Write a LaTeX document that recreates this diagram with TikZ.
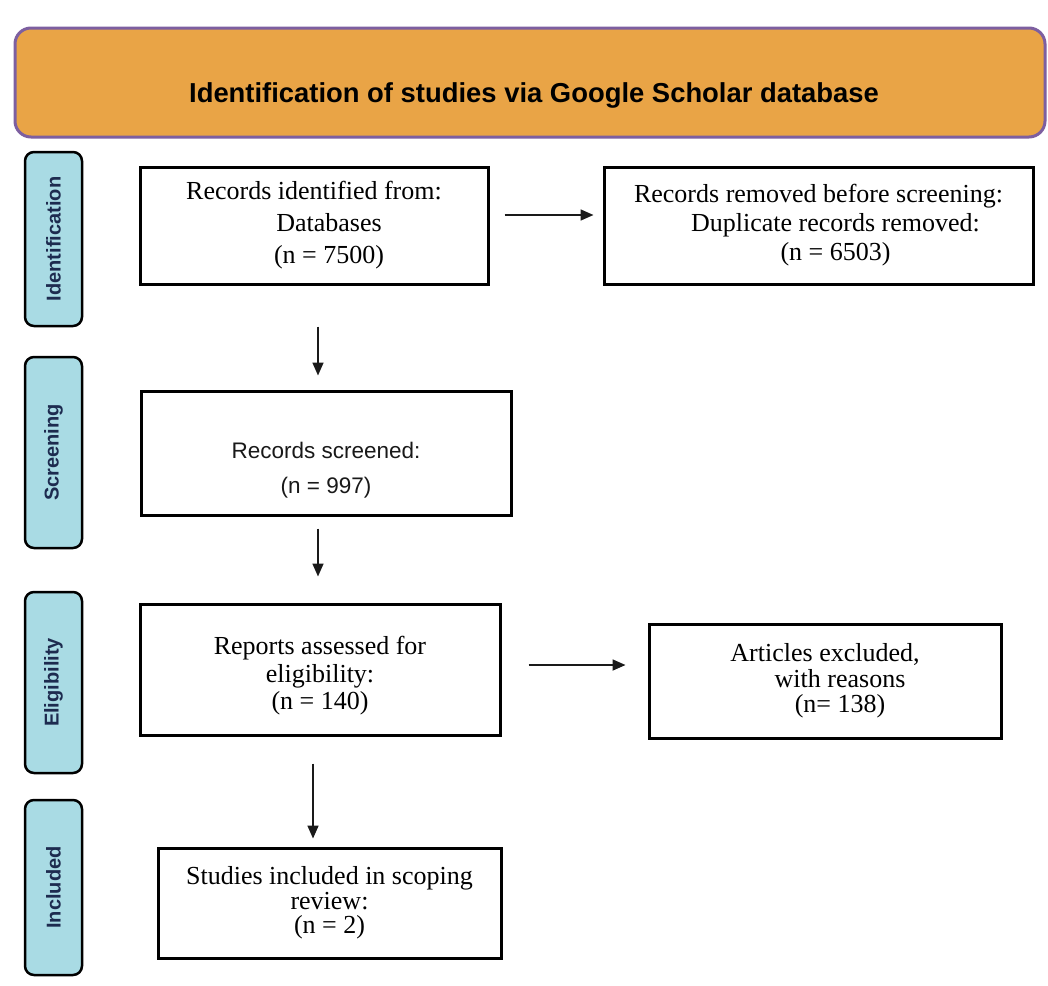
\documentclass[tikz,border=0pt]{standalone}
\usepackage{fontspec}
\setmainfont{Liberation Serif}
\setsansfont{Liberation Sans}
\usetikzlibrary{arrows.meta,calc}
\definecolor{hdrfill}{HTML}{E9A446}
\definecolor{hdrline}{HTML}{7D5FA0}
\definecolor{phasefill}{HTML}{A9DBE4}
\definecolor{phasetext}{HTML}{1D2B4F}
\definecolor{arrowc}{HTML}{1A1A1A}
\begin{document}
\begin{tikzpicture}[x=1pt,y=-1pt,
  hdr/.style={draw=hdrline, line width=3pt, fill=hdrfill, rounded corners=16pt,
    minimum width=1030pt, minimum height=109pt, inner sep=0pt},
  hdrtxt/.style={inner sep=0pt, font=\sffamily\bfseries\fontsize{27.4}{32}\selectfont},
  phase/.style={draw=black, line width=2.5pt, fill=phasefill, rounded corners=9pt,
    rotate=90, minimum height=57pt, inner sep=0pt, text=phasetext,
    font=\sffamily\bfseries\fontsize{20}{22}\selectfont},
  stepbox/.style={draw=black, line width=3pt, inner sep=0pt, align=center,
    font=\fontsize{26}{32}\selectfont},
  sanstxt/.style={inner sep=0pt, align=center, text=black!90,
    font=\sffamily\fontsize{22.5}{35}\selectfont},
  arr/.style={draw=arrowc, line width=1.7pt, -{Triangle[length=13pt,width=11pt]}}
]
\fill[white] (0,0) rectangle (1048,985);
\useasboundingbox (0,0) rectangle (1048,985);

% header
\node[hdr] (hdr) at (530,82.5) {};
\node[hdrtxt] (hdrt) at (534,95) {Identification of studies via Google Scholar database};

% phase labels
\node[phase, minimum width=174pt] (ph1) at (53.5,239) {Identification};
\node[phase, minimum width=191pt] (ph2) at (53.5,452.5) {Screening};
\node[phase, minimum width=181pt] (ph3) at (53.5,682.5) {Eligibility};
\node[phase, minimum width=175pt] (ph4) at (53.5,887.5) {Included};

% boxes
\node[stepbox, minimum width=348pt, minimum height=117pt] (b1) at (314,225.5)
  {Records identified from:\\\hspace*{30pt}Databases\\\hspace*{30pt}(n = 7500)};
\node[stepbox, minimum width=429pt, minimum height=117pt,
  font=\fontsize{26}{29}\selectfont] (b2) at (818.5,225.5)
  {Records removed before screening:\\\hspace*{34pt}Duplicate records removed:\\\hspace*{34pt}(n = 6503)};
\node[stepbox, minimum width=370pt, minimum height=124pt] (b3) at (326,453) {};
\node[sanstxt] (b3t) at (326,470) {Records screened:\\(n = 997)};
\node[stepbox, minimum width=360pt, minimum height=131pt] (b4) at (320,669.5) {};
\node[inner sep=0pt, align=center, font=\fontsize{26}{27.5}\selectfont] (b4t) at (320,676)
  {Reports assessed for\\eligibility:\\(n = 140)};
\node[stepbox, minimum width=352pt, minimum height=114pt,
  font=\fontsize{26}{25.5}\selectfont] (b5) at (825,681)
  {Articles excluded,\\\hspace*{30pt}with reasons\\\hspace*{30pt}(n= 138)};
\node[stepbox, minimum width=343pt, minimum height=110pt,
  font=\fontsize{26}{24.5}\selectfont] (b6) at (329.5,903)
  {Studies included in scoping\\review:\\(n = 2)};

% arrows
\draw[arr] ([xshift=15pt,yshift=10.5pt]b1.east) -- ([xshift=-9pt,yshift=10.5pt]b2.west);
\draw[arr] ([xshift=4pt,yshift=-41pt]b1.south) -- ([xshift=-8pt,yshift=14pt]b3.north);
\draw[arr] ([xshift=-8pt,yshift=-12pt]b3.south) -- ([xshift=-2pt,yshift=26pt]b4.north);
\draw[arr] ([xshift=27pt,yshift=4.5pt]b4.east) -- ([xshift=-22pt,yshift=16pt]b5.west);
\draw[arr] ([xshift=-7pt,yshift=-27pt]b4.south) -- ([xshift=-16.5pt,yshift=8pt]b6.north);
\end{tikzpicture}
\end{document}
